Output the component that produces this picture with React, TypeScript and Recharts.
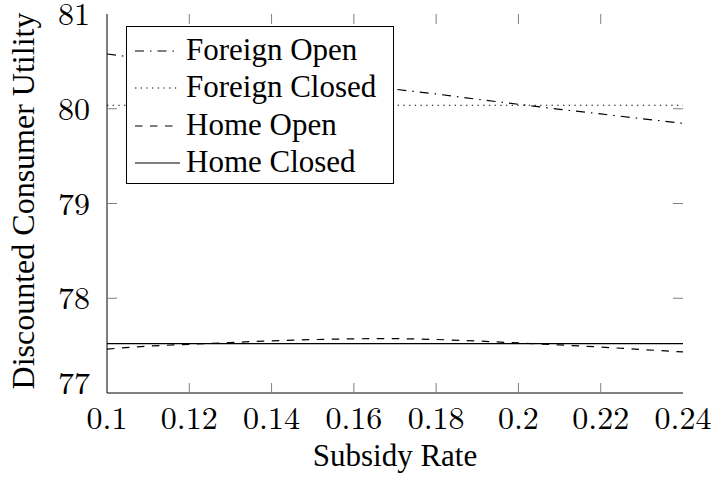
import React from 'react';
import { LineChart, Line, XAxis, YAxis, Legend } from 'recharts';

const subsidyRates = [0.1, 0.11, 0.12, 0.13, 0.14, 0.15, 0.16, 0.17, 0.18, 0.19, 0.2, 0.21, 0.22, 0.23, 0.24];
const foreignOpen = [80.578, 80.525, 80.472, 80.42, 80.365, 80.312, 80.259, 80.206, 80.156, 80.1, 80.047, 79.994, 79.945, 79.895, 79.846];
const foreignClosed = [80.037, 80.037, 80.037, 80.037, 80.037, 80.037, 80.037, 80.037, 80.037, 80.037, 80.037, 80.037, 80.037, 80.037, 80.037];
const homeOpen = [77.464, 77.496, 77.514, 77.533, 77.551, 77.564, 77.572, 77.575, 77.565, 77.549, 77.528, 77.507, 77.485, 77.459, 77.433];
const homeClosed = [77.522, 77.522, 77.522, 77.522, 77.522, 77.522, 77.522, 77.522, 77.522, 77.522, 77.522, 77.522, 77.522, 77.522, 77.522];

const xTicks = [0.1, 0.12, 0.14, 0.16, 0.18, 0.2, 0.22, 0.24];
const xTickLabels = ['0.1', '0.12', '0.14', '0.16', '0.18', '0.2', '0.22', '0.24'];
const yTicks = [77, 78, 79, 80, 81];
const yTickLabels = ['77', '78', '79', '80', '81'];

const seriesNames = ['Foreign Open', 'Foreign Closed', 'Home Open', 'Home Closed'];
const seriesKeys = ['foreignOpen', 'foreignClosed', 'homeOpen', 'homeClosed'];
const seriesDash = ['9 6 1.5 6', '1.3 4.4', '7.5 7.5', ''];

const data = subsidyRates.map((x, i) => ({
  x,
  foreignOpen: foreignOpen[i],
  foreignClosed: foreignClosed[i],
  homeOpen: homeOpen[i],
  homeClosed: homeClosed[i],
}));

const W = 713;
const H = 480;
const PLOT_LEFT = 107;
const PLOT_RIGHT = 683;
const PLOT_TOP = 14;
const PLOT_BOTTOM = 393;
const FONT = '"Liberation Serif", "Times New Roman", serif';
const TICK_FONT = '"Latin Modern Roman", "Liberation Serif", serif';
const FS = 31;
const TICK_FS = 32;
const TICK_LEN = 10;
const TICK_COLOR = '#808080';
const txtStyle = { fontFamily: FONT, fontSize: FS };
const tickStyle = { fontFamily: TICK_FONT, fontSize: TICK_FS };

const XTick = (props: any) => {
  const { x, y, index } = props;
  const interior = index > 0 && index < xTicks.length - 1;
  return (
    <g>
      {interior && <line x1={x} x2={x} y1={y} y2={y - TICK_LEN} stroke={TICK_COLOR} strokeWidth={1} />}
      {interior && <line x1={x} x2={x} y1={PLOT_TOP} y2={PLOT_TOP + TICK_LEN} stroke={TICK_COLOR} strokeWidth={1} />}
      <text x={x} y={y + 36} textAnchor="middle" style={tickStyle} fill="#000">
        {xTickLabels[index]}
      </text>
    </g>
  );
};

const YTick = (props: any) => {
  const { x, y, index } = props;
  const interior = index > 0 && index < yTicks.length - 1;
  const shift = index === 0 ? -10 : 0;
  return (
    <g>
      {interior && <line x1={x} x2={x + TICK_LEN} y1={y} y2={y} stroke={TICK_COLOR} strokeWidth={1} />}
      {interior && <line x1={PLOT_RIGHT} x2={PLOT_RIGHT - TICK_LEN} y1={y} y2={y} stroke={TICK_COLOR} strokeWidth={1} />}
      <text x={x - 17} y={y + shift + 11} textAnchor="end" style={tickStyle} fill="#000">
        {yTickLabels[index]}
      </text>
    </g>
  );
};

const LegendBox = () => {
  const baselines = [33, 70, 108, 145];
  return (
    <div
      style={{
        width: 268,
        height: 158,
        boxSizing: 'border-box',
        border: '1px solid #000',
        background: '#fff',
      }}
    >
      <svg width={266} height={156} style={{ display: 'block' }}>
        {seriesNames.map((name, i) => (
          <g key={name}>
            <line
              x1={8}
              x2={53}
              y1={baselines[i] - 9}
              y2={baselines[i] - 9}
              stroke="#000"
              strokeWidth={1.2}
              strokeDasharray={seriesDash[i] || undefined}
            />
            <text x={59} y={baselines[i]} style={txtStyle} fill="#000">
              {name}
            </text>
          </g>
        ))}
      </svg>
    </div>
  );
};

export default function App() {
  return (
    <div style={{ position: 'absolute', left: 0, top: 0, width: W, height: H, background: '#fff' }}>
      <LineChart
        width={W}
        height={H}
        data={data}
        margin={{ top: PLOT_TOP, right: W - PLOT_RIGHT, bottom: 0, left: 0 }}
      >
        <XAxis
          dataKey="x"
          type="number"
          domain={[0.1, 0.24]}
          ticks={xTicks}
          interval={0}
          height={H - PLOT_BOTTOM}
          tickSize={0}
          tickMargin={0}
          tickLine={false}
          axisLine={{ stroke: '#000', strokeWidth: 1 }}
          tick={<XTick />}
          label={(p: any) => (
            <text x={(PLOT_LEFT + PLOT_RIGHT) / 2} y={466} textAnchor="middle" style={txtStyle} fill="#000">
              Subsidy Rate
            </text>
          )}
        />
        <XAxis
          xAxisId="top"
          orientation="top"
          type="number"
          domain={[0.1, 0.24]}
          height={0}
          tick={false}
          tickLine={false}
          axisLine={{ stroke: '#000', strokeWidth: 1 }}
        />
        <YAxis
          type="number"
          domain={[77, 81]}
          ticks={yTicks}
          interval={0}
          width={PLOT_LEFT}
          tickSize={0}
          tickMargin={0}
          tickLine={false}
          axisLine={{ stroke: '#000', strokeWidth: 1 }}
          tick={<YTick />}
          label={(p: any) => (
            <text
              x={34}
              y={201}
              transform="rotate(-90, 34, 201)"
              textAnchor="middle"
              style={{ fontFamily: FONT, fontSize: FS + 1 }}
              fill="#000"
            >
              Discounted Consumer Utility
            </text>
          )}
        />
        <YAxis
          yAxisId="right"
          orientation="right"
          type="number"
          domain={[77, 81]}
          width={0}
          tick={false}
          tickLine={false}
          axisLine={{ stroke: '#000', strokeWidth: 1 }}
        />
        {seriesKeys.map((k, i) => (
          <Line
            key={k}
            dataKey={k}
            name={seriesNames[i]}
            type="linear"
            stroke="#000"
            strokeWidth={1.2}
            strokeDasharray={seriesDash[i] || undefined}
            dot={false}
            activeDot={false}
            isAnimationActive={false}
          />
        ))}
        <Legend
          layout="vertical"
          align="center"
          verticalAlign="middle"
          content={<LegendBox />}
          wrapperStyle={{ position: 'absolute', left: 126, top: 26, width: 268, height: 158 }}
        />
      </LineChart>
    </div>
  );
}
